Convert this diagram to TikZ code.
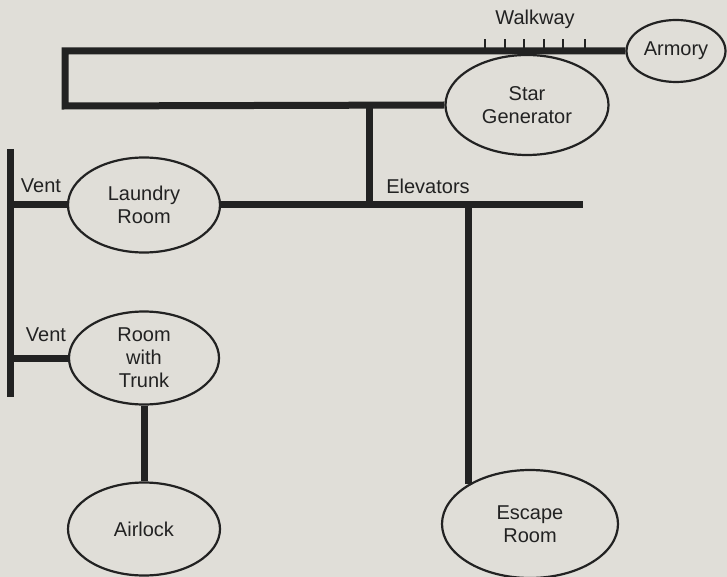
\documentclass[tikz,border=0pt]{standalone}
\usepackage{fontspec}
\setmainfont{Liberation Sans}
\usetikzlibrary{shapes.geometric}
\definecolor{paper}{HTML}{E0DED8}
\definecolor{ink}{HTML}{222222}
\begin{document}
\begin{tikzpicture}[x=1pt, y=-1pt, font=\fontsize{20}{23}\selectfont, text=ink,
        room/.style={draw=ink, ellipse, line width=2.2pt, fill=paper,
                     inner sep=0pt, align=center},
        hall/.style={draw=ink, line width=7pt},
        rail/.style={draw=ink, line width=2pt},
        tag/.style={inner sep=0pt}]
      \useasboundingbox[fill=paper] (0,0) rectangle (727,577);
      % Rooms
      \node[room, minimum width=99pt, minimum height=62pt] (armory) at (676,51) {Armory};
      \node[room, minimum width=163pt, minimum height=100pt] (stargen) at (527,105)
            {Star\\Generator};
      \node[room, minimum width=152pt, minimum height=95pt] (laundry) at (144,205)
            {Laundry\\Room};
      \node[room, minimum width=150pt, minimum height=93pt] (trunk) at (144,358)
            {Room\\with\\Trunk};
      \node[room, minimum width=152pt, minimum height=93pt] (airlock) at (144,529) {Airlock};
      \node[room, minimum width=176pt, minimum height=108pt] (escape) at (530,524)
            {Escape\\Room};
      % Free ends
      \coordinate (venttop) at (10,149);
      \coordinate (ventbot) at (10,397);
      \coordinate (elev)    at (369,106);
      \coordinate (hallend) at (583,205);
      % Corridors
      \draw[hall] (armory.west) -| (65,106) -- (stargen.west);
      \draw[hall] (elev) -- (elev |- laundry.east);
      \draw[hall] (laundry.east) -- (hallend);
      \draw[hall] (escape.147) -- (escape.147 |- hallend);
      \draw[hall] (venttop) -- (ventbot);
      \draw[hall] (laundry.west) -- (venttop |- laundry.west);
      \draw[hall] (trunk.west) -- (venttop |- trunk.west);
      \draw[hall] (trunk.south) -- (airlock.north);
      % Walkway ticks
      \foreach \x in {485,505,524,544,563,585}
        \draw[rail] (\x,52) -- (\x,39);
      % Labels
      \node[tag] (walkway) at (535,19)  {Walkway};
      \node[tag] (elevlbl) at (428,186) {Elevators};
      \node[tag] (vent1)   at (41,186)  {Vent};
      \node[tag] (vent2)   at (46,335)  {Vent};
    \end{tikzpicture}
\end{document}
